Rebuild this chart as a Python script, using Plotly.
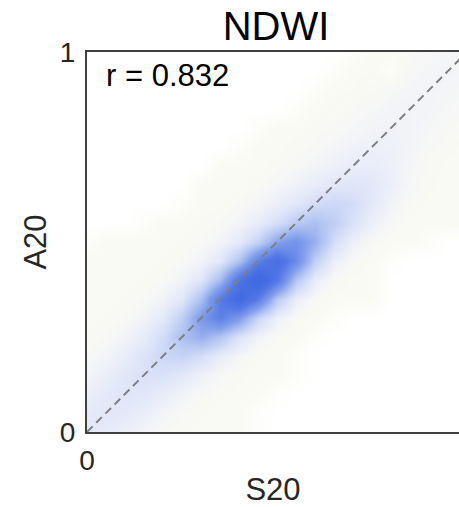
import plotly.graph_objects as go

# Grid coordinates of the density map (S20 on x, A20 on y)
grid_x = [0.00, 0.05, 0.10, 0.15, 0.20, 0.25, 0.30, 0.35, 0.40, 0.45, 0.50,
          0.55, 0.60, 0.65, 0.70, 0.75, 0.80, 0.85, 0.90, 0.95, 1.00]
grid_y = list(grid_x)

# Relative point density, one row per grid_y value (bottom to top)
density = [
    [.15, .136, .10, .068, .046, .035, .03, .03, .03, .01, 0, 0, 0, 0, 0, 0, 0, 0, 0, 0, 0],
    [.14, .16, .15, .11, .071, .046, .035, .03, .03, .01, 0, 0, 0, 0, 0, 0, 0, 0, 0, 0, 0],
    [.107, .15, .175, .164, .122, .077, .049, .035, .03, .03, .01, 0, 0, 0, 0, 0, 0, 0, 0, 0, 0],
    [.071, .112, .165, .208, .207, .154, .092, .052, .036, .03, .03, .015, 0, 0, 0, 0, 0, 0, 0, 0, 0],
    [.046, .072, .12, .197, .28, .308, .23, .124, .061, .037, .03, .015, 0, 0, 0, 0, 0, 0, 0, 0, 0],
    [.035, .046, .074, .13, .25, .435, .54, .40, .188, .076, .039, .03, .01, 0, 0, 0, 0, 0, 0, 0, 0],
    [.03, .035, .046, .076, .15, .34, .69, .92, .67, .285, .094, .041, .03, .015, 0, 0, 0, 0, 0, 0, 0],
    [.03, .03, .035, .046, .078, .166, .43, .96, 1.31, .94, .375, .111, .043, .03, .03, .03, 0, 0, 0, 0, 0],
    [.03, .03, .03, .035, .046, .077, .17, .46, 1.05, 1.43, 1.0, .39, .115, .044, .03, .03, 0, 0, 0, 0, 0],
    [.03, .03, .03, .03, .035, .046, .075, .16, .41, .90, 1.17, .81, .33, .105, .044, .03, .011, 0, 0, 0, 0],
    [.015, .03, .03, .03, .03, .035, .046, .073, .142, .313, .61, .75, .53, .233, .095, .048, .03, .03, .015, 0, 0],
    [0, 0, 0, .015, .03, .03, .035, .046, .071, .124, .226, .367, .44, .34, .20, .10, .05, .03, .03, .03, .03],
    [0, 0, 0, 0, 0, .015, .03, .03, .044, .065, .106, .167, .24, .28, .24, .15, .075, .04, .03, .03, .03],
    [0, 0, 0, 0, 0, 0, .03, .03, .03, .041, .059, .088, .124, .16, .18, .16, .10, .055, .036, .03, .03],
    [0, 0, 0, 0, 0, 0, 0, .03, .03, .03, .038, .052, .072, .098, .118, .118, .095, .064, .04, .03, .03],
    [0, 0, 0, 0, 0, 0, 0, 0, .015, .03, .03, .038, .049, .066, .083, .095, .093, .071, .049, .038, .03],
    [0, 0, 0, 0, 0, 0, 0, 0, 0, .015, .03, .03, .037, .046, .06, .074, .08, .074, .06, .046, .037],
    [0, 0, 0, 0, 0, 0, 0, 0, 0, 0, 0, .015, .03, .036, .044, .057, .07, .075, .07, .057, .044],
    [0, 0, 0, 0, 0, 0, 0, 0, 0, 0, 0, 0, .015, .03, .035, .042, .054, .065, .07, .065, .054],
    [0, 0, 0, 0, 0, 0, 0, 0, 0, 0, 0, 0, 0, .015, .03, .035, .015, .054, .065, .07, .065],
    [0, 0, 0, 0, 0, 0, 0, 0, 0, 0, 0, 0, 0, 0, .015, .03, .03, .041, .051, .061, .065],
]

# 1:1 reference line
line_x = [0, 1]
line_y = [0, 1]

# Axis ticks and labels
x_ticks = [0, 1]
y_ticks = [0, 1]
tick_text = ["0", "1"]

title_text = "NDWI"
x_title = "S20"
y_title = "A20"
r_label = "r = 0.832"

colorscale = [
    [0.0, "rgb(255,255,255)"],
    [0.01, "rgb(252,252,249)"],
    [0.021, "rgb(250,250,244)"],
    [0.04, "rgb(245,246,246)"],
    [0.07, "rgb(236,239,249)"],
    [0.14, "rgb(218,226,248)"],
    [0.28, "rgb(178,196,242)"],
    [0.45, "rgb(128,157,235)"],
    [0.68, "rgb(84,120,229)"],
    [0.85, "rgb(68,107,226)"],
    [1.0, "rgb(65,105,225)"],
]

FONT = "Liberation Sans, Arial, Helvetica, sans-serif"
W, H = 459, 507
L, T, B = 87, 52, 75
plot_h = H - T - B          # 380 px for 0..1
plot_w = W - L              # visible part of the x axis
x_max = plot_w / plot_h     # axis is square; right side is cut by the window

fig = go.Figure()
fig.add_trace(go.Heatmap(
    x=grid_x, y=grid_y, z=density, zmin=0, zmax=1.45,
    colorscale=colorscale, zsmooth="best", showscale=False, hoverinfo="skip",
))
fig.add_trace(go.Scatter(
    x=line_x, y=line_y, mode="lines",
    line=dict(color="rgb(128,128,128)", width=2, dash="8px,5px"),
    hoverinfo="skip", showlegend=False,
))

axis_common = dict(
    showgrid=False, zeroline=False, showline=True, linecolor="#404040", linewidth=2,
    ticks="", tickfont=dict(family=FONT, size=28, color="#262626"),
)

fig.update_layout(
    width=W, height=H,
    margin=dict(l=L, r=0, t=T, b=B),
    paper_bgcolor="white", plot_bgcolor="white",
    showlegend=False,
    title=dict(text=title_text, x=276 / W, xref="container", xanchor="center",
               y=1 - 26 / H, yref="container", yanchor="middle",
               font=dict(family=FONT, size=40, color="black")),
    xaxis=dict(range=[0, x_max], tickvals=[v for v in x_ticks if v <= x_max],
               ticktext=[t for v, t in zip(x_ticks, tick_text) if v <= x_max],
               mirror=True, ticklabelstandoff=2,
               title=dict(text=x_title, font=dict(family=FONT, size=31, color="#262626"), standoff=10),
               **axis_common),
    yaxis=dict(range=[0, 1], tickvals=y_ticks, ticktext=tick_text, mirror=False,
               ticklabelstandoff=4,
               title=dict(text=y_title, font=dict(family=FONT, size=31, color="#262626"), standoff=4),
               **axis_common),
)

# Tick labels lying beyond the visible window edge (cut off like in the reference)
for v, t in zip(x_ticks, tick_text):
    if v > x_max:
        fig.add_annotation(text=t, xref="paper", yref="paper", x=v / x_max, y=-25 / plot_h,
                           xanchor="center", yanchor="middle", showarrow=False,
                           font=dict(family=FONT, size=28, color="#262626"))

fig.add_annotation(text=r_label, xref="x", yref="y", x=0.045, y=0.937,
                   xanchor="left", yanchor="middle", showarrow=False,
                   font=dict(family=FONT, size=31, color="black"))

fig.write_html("out.html")
